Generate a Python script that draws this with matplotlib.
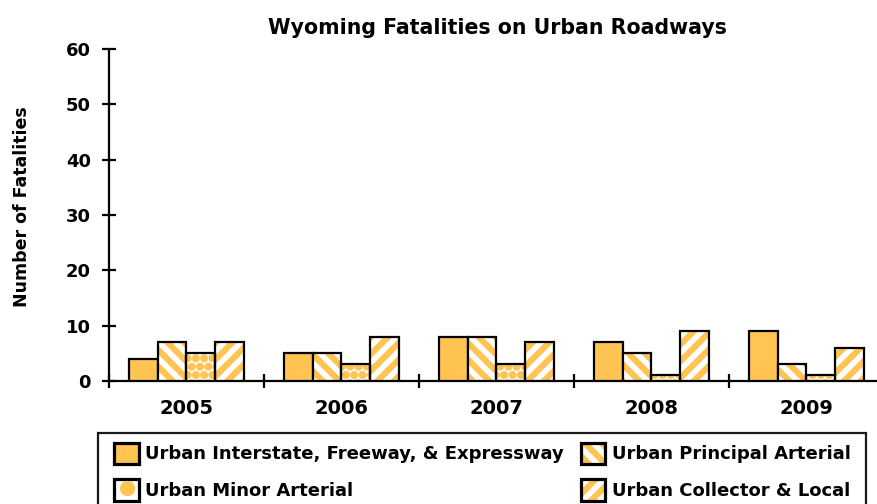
import matplotlib
matplotlib.use("Agg")
import matplotlib.pyplot as plt
import matplotlib.hatch as mhatch
import numpy as np
from matplotlib.patches import Patch, Rectangle
from matplotlib.lines import Line2D
from matplotlib.legend_handler import HandlerTuple

years = ["2005", "2006", "2007", "2008", "2009"]
series = ["Urban Interstate, Freeway, & Expressway", "Urban Principal Arterial",
          "Urban Minor Arterial", "Urban Collector & Local"]
interstate = [4, 5, 8, 7, 9]
principal = [7, 5, 8, 5, 3]
minor = [5, 3, 3, 1, 1]
collector = [7, 8, 7, 9, 6]
values = [interstate, principal, minor, collector]

ORANGE = "#FFC451"
plt.rcParams['font.family'] = ['DejaVu Sans']
# larger filled dots for the '.' hatch texture
mhatch.SmallFilledCircles.size = 0.4

fig = plt.figure(figsize=(8.78, 5.04), dpi=100)
ax = fig.add_axes([109/878, 1-381/504, (884-109)/878, (381-49)/504])

x = np.arange(len(years))
w = 0.184
offs = [-1.5, -0.5, 0.5, 1.5]
# (face, hatchcolor, hatch, hatch lw)
styles = [(ORANGE, None, None, 1.0),
          (ORANGE, "white", "\\\\", 4.0),
          ("white", ORANGE, "..", 1.0),
          (ORANGE, "white", "//", 4.0)]

def hatched_bar(xpos, vals, face, hcol, hatch, hlw):
    with plt.rc_context({'hatch.linewidth': hlw}):
        if hatch is None:
            bars = ax.bar(xpos, vals, w, color=face, edgecolor='black', linewidth=1.6, zorder=3)
        else:
            b1 = ax.bar(xpos, vals, w, facecolor=face, edgecolor=hcol, hatch=hatch, linewidth=0, zorder=3)
            for p in b1:
                if hasattr(p, 'set_hatch_linewidth'):
                    p.set_hatch_linewidth(hlw)
            bars = ax.bar(xpos, vals, w, fill=False, edgecolor='black', linewidth=1.6, zorder=4)
    return bars

for i, (vals, st) in enumerate(zip(values, styles)):
    hatched_bar(x + offs[i]*w, vals, *st)

ax.set_xlim(-0.5, 4.5)
ax.set_ylim(0, 60)
ax.set_yticks(range(0, 61, 10))
ax.set_xticks(x)
ax.set_xticklabels(years, fontsize=14, fontweight='bold')
ax.set_xticks(np.arange(-0.5, 5.0, 1.0), minor=True)
ax.tick_params(axis='x', which='major', length=0, pad=13)
ax.tick_params(axis='x', which='minor', direction='inout', length=10, width=1.6)
ax.tick_params(axis='y', direction='inout', length=10, width=1.6, labelsize=13, pad=8)
for lab in ax.get_yticklabels():
    lab.set_fontweight('bold')
for s in ['top', 'right']:
    ax.spines[s].set_visible(False)
for s in ['left', 'bottom']:
    ax.spines[s].set_linewidth(1.6)
ax.spines['bottom'].set_clip_on(False)

fig.text(497/878, 1-28/504, "Wyoming Fatalities on Urban Roadways", ha='center', va='center',
         fontsize=14.8, fontweight='bold')
fig.text(22/878, 1-207/504, "Number of Fatalities", rotation=90, ha='center', va='center',
         fontsize=12.5, fontweight='bold')

# legend handles
HLW = 2.3
h_inter = Patch(facecolor=ORANGE, edgecolor='black', linewidth=HLW)
hp = Patch(facecolor=ORANGE, edgecolor='white', hatch='\\\\', linewidth=0)
if hasattr(hp, 'set_hatch_linewidth'):
    hp.set_hatch_linewidth(4.0)
h_princ = (hp, Patch(fill=False, edgecolor='black', linewidth=HLW))
h_minor = (Patch(facecolor='white', edgecolor='black', linewidth=HLW),
           Line2D([], [], linestyle='none', marker='o', markersize=11,
                  markerfacecolor=ORANGE, markeredgewidth=0))
hc = Patch(facecolor=ORANGE, edgecolor='white', hatch='//', linewidth=0)
if hasattr(hc, 'set_hatch_linewidth'):
    hc.set_hatch_linewidth(4.0)
h_coll = (hc, Patch(fill=False, edgecolor='black', linewidth=HLW))

leg_handles = [h_inter, h_minor, h_princ, h_coll]
leg_labels = [series[0], series[2], series[1], series[3]]
with plt.rc_context({'hatch.linewidth': 4.0}):
    leg = fig.legend(leg_handles, leg_labels,
                     handler_map={tuple: HandlerTuple(ndivide=1, pad=0)},
                     loc='upper left', bbox_to_anchor=(114.5/878, 1-442.5/504), ncol=2,
                     prop={'weight': 'bold', 'size': 13},
                     handlelength=1.35, handleheight=1.45, handletextpad=0.35,
                     columnspacing=0.95, labelspacing=0.85, borderpad=0, borderaxespad=0,
                     frameon=False)

frame = Rectangle((98/878, -0.05), (866-98)/878, 1-433/504+0.05, transform=fig.transFigure,
                  fill=False, edgecolor='#1a1a1a', linewidth=1.6, clip_on=False)
fig.add_artist(frame)

fig.savefig("out.png", dpi=100)
